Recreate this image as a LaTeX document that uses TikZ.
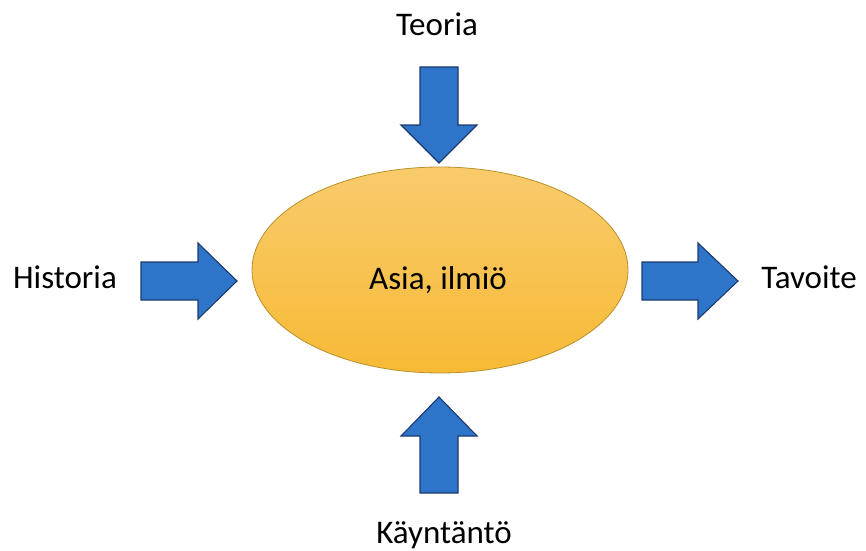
\documentclass[tikz,border=0pt]{standalone}
\usepackage{fontspec}
\setmainfont{Carlito}
\usetikzlibrary{shapes.geometric}
\definecolor{arrowblue}{HTML}{2E74C9}
\definecolor{arrowline}{HTML}{1C3A6E}
\definecolor{ovaltop}{HTML}{F9CB6C}
\definecolor{ovalbot}{HTML}{F7BA36}
\definecolor{ovalline}{HTML}{B8902C}
\begin{document}
\begin{tikzpicture}[x=1pt,y=1pt,
  blockarrow/.style={fill=arrowblue,draw=arrowline,line width=1.1pt,line join=miter},
  label/.style={font=\fontsize{33}{38}\selectfont,anchor=base,inner sep=0pt}]
\useasboundingbox (0,0) rectangle (866,550);
% central oval
\node[ellipse,minimum width=376,minimum height=206,inner sep=0pt,
      top color=ovaltop,bottom color=ovalbot,draw=ovalline,line width=0.8pt]
      (core) at (440,280) {};
\node[label] (coretext) at (438,261) {Asia, ilmiö};
% block arrows pointing at / away from the oval
\draw[blockarrow] (420,483) -- (458,483) -- (458,425) -- (477,425) -- (439,387) -- (401,425) -- (420,425) -- cycle;
\draw[blockarrow] (439,153) -- (477,114) -- (458,114) -- (458,57) -- (420,57) -- (420,114) -- (401,114) -- cycle;
\draw[blockarrow] (141,288) -- (198,288) -- (198,307) -- (237,269) -- (198,231) -- (198,250) -- (141,250) -- cycle;
\draw[blockarrow] (642,288) -- (698,288) -- (698,307) -- (738,269) -- (698,231) -- (698,250) -- (642,250) -- cycle;
% labels
\node[label] (top) at (437,514) {Teoria};
\node[label] (left) at (65,262) {Historia};
\node[label] (right) at (809,262) {Tavoite};
\node[label] (bottom) at (444,7) {Käyntäntö};
\end{tikzpicture}
\end{document}
